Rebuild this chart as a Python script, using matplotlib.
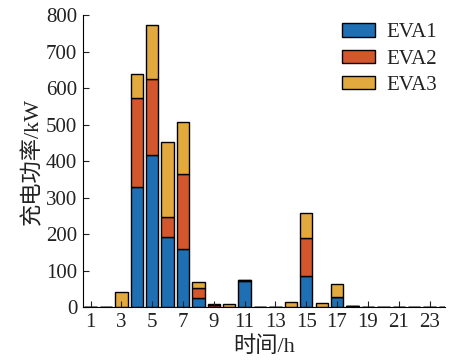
import numpy as np
import matplotlib.pyplot as plt

plt.rcParams['font.family'] = ['Liberation Serif', 'Noto Sans CJK SC']
plt.rcParams['font.size'] = 15

# 数据 (kW)
hours = np.arange(1, 25)
eva1 = [0, 0, 0, 330, 416, 193, 158, 25, 1, 0, 72, 0, 0, 0, 85, 0, 27, 3, 0, 0, 0, 0, 0, 0]
eva2 = [0, 0, 0, 243, 210, 54, 207, 26, 5, 0, 1, 0, 0, 0, 103, 0, 0, 1, 0, 0, 0, 0, 0, 0]
eva3 = [0, 0, 41, 65, 147, 206, 143, 17, 2, 9, 1, 0, 0, 13, 70, 11, 37, 0, 0, 0, 0, 0, 0, 0]
labels = ['EVA1', 'EVA2', 'EVA3']
colors = ['#1f6fb4', '#d3562c', '#e2a93e']

fig = plt.figure(figsize=(4.55, 3.6), dpi=100)
ax = fig.add_axes([0.182, 0.147, 0.796, 0.811])

bottom = np.zeros(len(hours))
for vals, lab, c in zip([eva1, eva2, eva3], labels, colors):
    vals = np.array(vals, dtype=float)
    ax.bar(hours, vals, 0.8, bottom=bottom, color=c, edgecolor='black',
           linewidth=1.0, label=lab)
    bottom += vals

ax.set_xlim(0.5, 24)
ax.set_ylim(0, 800)
ax.set_xticks(np.arange(1, 24, 2))
ax.set_yticks(np.arange(0, 801, 100))
ax.tick_params(direction='in', length=4, width=0.8, pad=4, colors='#222222')
ax.spines['top'].set_visible(False)
ax.spines['right'].set_visible(False)
ax.set_xlabel('时间/h', fontsize=16, labelpad=3, color='#222222')
ax.set_ylabel('充电功率/kW', fontsize=16, labelpad=2, color='#222222')

leg = ax.legend(loc='upper right', frameon=False, handlelength=1.6, handleheight=0.6,
                handletextpad=0.5, labelspacing=0.35, borderaxespad=0.0,
                bbox_to_anchor=(1.0, 1.0))
for t in leg.get_texts():
    t.set_color('#222222')

fig.savefig('out.png', dpi=100)
